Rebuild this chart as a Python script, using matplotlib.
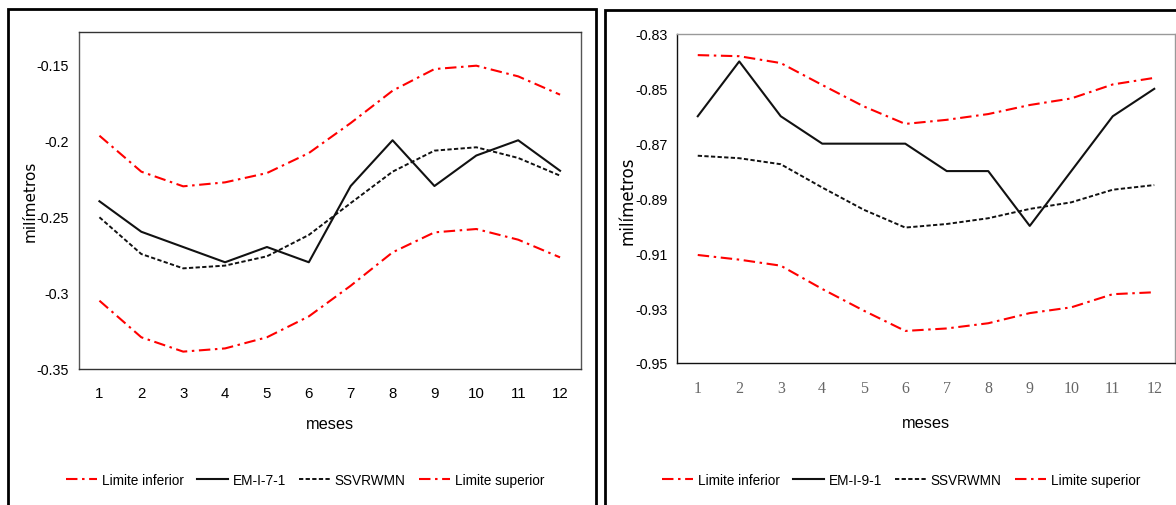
import matplotlib
matplotlib.use("Agg")
import matplotlib.pyplot as plt
from matplotlib.patches import Rectangle
from matplotlib import font_manager

months = list(range(1, 13))
month_labels = [str(m) for m in months]

# Left panel (EM-I-7-1)
left_lower = [-0.3052, -0.3292, -0.3386, -0.3365, -0.3292, -0.3155, -0.2954, -0.2735, -0.2604, -0.2582, -0.2652, -0.2768]
left_obs = [-0.24, -0.26, -0.27, -0.28, -0.27, -0.28, -0.23, -0.20, -0.23, -0.21, -0.20, -0.22]
left_model = [-0.2505, -0.2746, -0.2840, -0.2822, -0.2761, -0.2621, -0.2412, -0.2206, -0.2068, -0.2046, -0.2116, -0.2232]
left_upper = [-0.1970, -0.2206, -0.2302, -0.2276, -0.2215, -0.2084, -0.1887, -0.1675, -0.1533, -0.1511, -0.1581, -0.1701]
left_yticks = [-0.35, -0.3, -0.25, -0.2, -0.15]
left_yticklabels = ["-0.35", "-0.3", "-0.25", "-0.2", "-0.15"]

# Right panel (EM-I-9-1)
right_lower = [-0.9106, -0.9123, -0.9145, -0.9230, -0.9309, -0.9383, -0.9374, -0.9355, -0.9318, -0.9297, -0.9249, -0.9242]
right_obs = [-0.86, -0.84, -0.86, -0.87, -0.87, -0.87, -0.88, -0.88, -0.90, -0.88, -0.86, -0.85]
right_model = [-0.8744, -0.8753, -0.8775, -0.8860, -0.8941, -0.9006, -0.8993, -0.8972, -0.8938, -0.8914, -0.8868, -0.8851]
right_upper = [-0.8377, -0.8381, -0.8406, -0.8486, -0.8564, -0.8628, -0.8613, -0.8592, -0.8559, -0.8535, -0.8484, -0.8460]
right_yticks = [-0.95, -0.93, -0.91, -0.89, -0.87, -0.85, -0.83]
right_yticklabels = ["-0.95", "-0.93", "-0.91", "-0.89", "-0.87", "-0.85", "-0.83"]

labels_left = ["Limite inferior", "EM-I-7-1", "SSVRWMN", "Limite superior"]
labels_right = ["Limite inferior", "EM-I-9-1", "SSVRWMN", "Limite superior"]


def pick_font(cands):
    for c in cands:
        try:
            font_manager.findfont(font_manager.FontProperties(family=c),
                                  fallback_to_default=False)
            return c
        except Exception:
            continue
    return "DejaVu Sans"


NARROW_NAME = pick_font(["Liberation Sans Narrow", "Arial Narrow", "Liberation Sans"])
IS_NARROW = NARROW_NAME != "Liberation Sans"
NARROW = [NARROW_NAME, "DejaVu Sans"]
TS = 12 if IS_NARROW else 10.3   # tick size
LS = 11.5 if IS_NARROW else 9.8  # legend size

W, H = 1176, 506
fig = plt.figure(figsize=(W / 100, H / 100), dpi=100)
fig.patch.set_facecolor("white")


def px(x0, y0, x1, y1):
    return [x0 / W, 1 - y1 / H, (x1 - x0) / W, (y1 - y0) / H]


# Panel frames
fig.add_artist(Rectangle((8 / W, 1 - 520 / H), (596 - 8) / W, (520 - 10) / H,
                         transform=fig.transFigure, fill=False, lw=2, ec="black"))
fig.add_artist(Rectangle((605 / W, 1 - 520 / H), (1190 - 605) / W, (520 - 11) / H,
                         transform=fig.transFigure, fill=False, lw=2, ec="black"))

red_dd = (0, (5.5, 2.2, 1.2, 2.2))
blk_dash = (0, (2.2, 1.2))


def draw(ax, lower, obs, model, upper, labels, yticks, yticklabels, ylim,
         xtick_style, spine_cols):
    l1, = ax.plot(months, lower, color="#ff0000", lw=1.5, linestyle=red_dd, label=labels[0])
    l2, = ax.plot(months, obs, color="#111111", lw=1.5, linestyle="-", label=labels[1])
    l3, = ax.plot(months, model, color="#111111", lw=1.4, linestyle=blk_dash, label=labels[2])
    l4, = ax.plot(months, upper, color="#ff0000", lw=1.5, linestyle=red_dd, label=labels[3])
    ax.set_xlim(0.5, 12.5)
    ax.set_ylim(*ylim)
    ax.set_yticks(yticks)
    ax.set_yticklabels(yticklabels, family=NARROW, fontsize=TS)
    ax.set_xticks(months)
    ax.set_xticklabels(month_labels, **xtick_style)
    ax.tick_params(length=0)
    ax.tick_params(axis="x", pad=12)
    ax.tick_params(axis="y", pad=7)
    for s, c in spine_cols.items():
        ax.spines[s].set_color(c)
        ax.spines[s].set_linewidth(1.0)
    return [l1, l2, l3, l4]


axL = fig.add_axes(px(78.5, 33, 581, 370))
hL = draw(axL, left_lower, left_obs, left_model, left_upper, labels_left,
          left_yticks, left_yticklabels, (-0.35, -0.129),
          dict(family=NARROW, fontsize=TS + 0.5, color="black"),
          {"left": "#555555", "bottom": "#333333", "top": "#333333", "right": "#555555"})
axL.set_xlabel("meses", family=NARROW, fontsize=TS + 1.5, va="center")
axL.xaxis.set_label_coords(0.5, (370 - 425) / 337)
axL.set_ylabel("milímetros", family="DejaVu Sans", fontsize=11, va="center")
axL.yaxis.set_label_coords((30.5 - 78.5) / 502.5, 0.5)

axR = fig.add_axes(px(677, 35, 1175, 364))
hR = draw(axR, right_lower, right_obs, right_model, right_upper, labels_right,
          right_yticks, right_yticklabels, (-0.95, -0.83),
          dict(family="Liberation Serif", fontsize=11.5, color="#666666"),
          {"left": "#111111", "bottom": "#111111", "top": "#999999", "right": "#999999"})
axR.set_xlabel("meses", family=NARROW, fontsize=TS + 1.5, va="center")
axR.xaxis.set_label_coords(0.5, (364 - 424) / 329)
axR.set_ylabel("milímetros", family="DejaVu Sans", fontsize=12, va="center")
axR.yaxis.set_label_coords((627 - 677) / 498, 0.495)

leg_kw = dict(ncol=4, frameon=False, handlelength=2.3, handletextpad=0.3,
              columnspacing=1.0, loc="center",
              prop={"family": NARROW, "size": LS})
fig.legend(hL, labels_left, bbox_to_anchor=(305 / W, 1 - 481 / H), **leg_kw)
fig.legend(hR, labels_right, bbox_to_anchor=(901 / W, 1 - 481 / H), **leg_kw)

fig.savefig("out.png", dpi=100, facecolor="white")
